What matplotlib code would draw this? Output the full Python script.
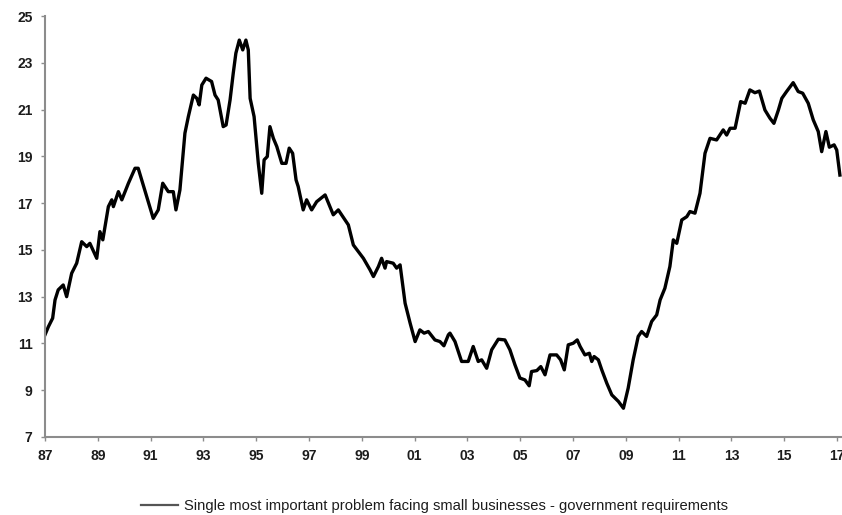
import matplotlib
matplotlib.use("Agg")
import matplotlib.pyplot as plt

# Share of small firms naming government requirements as their single most
# important problem (%), traced as (decimal year, value) pairs.
years = [
    1987.00, 1987.13, 1987.29, 1987.38, 1987.50, 1987.69, 1987.82, 1988.01,
    1988.20, 1988.39, 1988.58, 1988.70, 1988.96, 1989.08, 1989.19, 1989.40,
    1989.53, 1989.59, 1989.78, 1989.91, 1990.16, 1990.41, 1990.53, 1990.85,
    1991.10, 1991.29, 1991.46, 1991.67, 1991.86, 1991.96, 1992.11, 1992.30,
    1992.43, 1992.62, 1992.75, 1992.84, 1992.94, 1993.10, 1993.31, 1993.44,
    1993.56, 1993.75, 1993.86, 1994.01, 1994.13, 1994.23, 1994.36, 1994.49,
    1994.61, 1994.70, 1994.77, 1994.92, 1995.08, 1995.21, 1995.30, 1995.42,
    1995.52, 1995.65, 1995.78, 1995.97, 1996.13, 1996.25, 1996.38, 1996.51,
    1996.59, 1996.78, 1996.91, 1997.10, 1997.29, 1997.61, 1997.92, 1998.11,
    1998.49, 1998.68, 1999.06, 1999.31, 1999.44, 1999.63, 1999.75, 1999.88,
    1999.94, 2000.19, 2000.32, 2000.45, 2000.64, 2000.83, 2001.02, 2001.20,
    2001.36, 2001.52, 2001.77, 2001.96, 2002.11, 2002.28, 2002.34, 2002.53,
    2002.78, 2003.03, 2003.22, 2003.41, 2003.54, 2003.73, 2003.92, 2004.17,
    2004.42, 2004.61, 2004.80, 2004.99, 2005.18, 2005.34, 2005.43, 2005.63,
    2005.78, 2005.94, 2006.13, 2006.38, 2006.53, 2006.67, 2006.82, 2007.01,
    2007.16, 2007.27, 2007.45, 2007.62, 2007.71, 2007.80, 2007.96, 2008.09,
    2008.28, 2008.47, 2008.72, 2008.91, 2009.09, 2009.28, 2009.47, 2009.60,
    2009.79, 2009.98, 2010.17, 2010.30, 2010.48, 2010.67, 2010.80, 2010.93,
    2011.12, 2011.31, 2011.43, 2011.62, 2011.81, 2012.00, 2012.19, 2012.44,
    2012.69, 2012.82, 2012.95, 2013.14, 2013.35, 2013.52, 2013.70, 2013.89,
    2014.06, 2014.27, 2014.46, 2014.61, 2014.78, 2014.91, 2015.09, 2015.34,
    2015.53, 2015.70, 2015.91, 2016.10, 2016.29, 2016.42, 2016.58, 2016.71,
    2016.89, 2016.99, 2017.11,
]
values = [
    11.37, 11.72, 12.08, 12.86, 13.29, 13.50, 13.00, 14.00,
    14.43, 15.35, 15.14, 15.28, 14.64, 15.78, 15.43, 16.85,
    17.14, 16.85, 17.49, 17.14, 17.85, 18.49, 18.49, 17.28,
    16.35, 16.71, 17.85, 17.49, 17.49, 16.71, 17.56, 19.99,
    20.70, 21.62, 21.48, 21.20, 22.05, 22.34, 22.20, 21.62,
    21.41, 20.27, 20.34, 21.41, 22.55, 23.41, 23.97, 23.55,
    23.97, 23.55, 21.48, 20.70, 18.70, 17.42, 18.85, 18.99,
    20.27, 19.77, 19.42, 18.70, 18.70, 19.35, 19.13, 17.99,
    17.71, 16.71, 17.14, 16.71, 17.06, 17.35, 16.50, 16.71,
    16.07, 15.21, 14.64, 14.15, 13.86, 14.29, 14.64, 14.22,
    14.50, 14.43, 14.22, 14.36, 12.72, 11.87, 11.08, 11.58,
    11.44, 11.51, 11.15, 11.08, 10.90, 11.37, 11.44, 11.08,
    10.23, 10.23, 10.87, 10.23, 10.30, 9.94, 10.73, 11.18,
    11.15, 10.73, 10.09, 9.52, 9.44, 9.19, 9.80, 9.84,
    10.01, 9.66, 10.51, 10.51, 10.30, 9.87, 10.94, 11.01,
    11.15, 10.87, 10.51, 10.58, 10.23, 10.44, 10.30, 9.87,
    9.30, 8.80, 8.52, 8.23, 9.09, 10.30, 11.30, 11.51,
    11.30, 11.94, 12.22, 12.86, 13.36, 14.29, 15.43, 15.28,
    16.28, 16.42, 16.64, 16.57, 17.42, 19.13, 19.77, 19.70,
    20.13, 19.91, 20.20, 20.20, 21.34, 21.27, 21.84, 21.72,
    21.79, 20.98, 20.63, 20.41, 20.98, 21.48, 21.77, 22.15,
    21.77, 21.70, 21.27, 20.56, 20.06, 19.20, 20.06, 19.39,
    19.49, 19.27, 18.20,
]

x_ticks = list(range(1987, 2018, 2))
x_labels = [f"{y % 100:02d}" for y in x_ticks]
y_ticks = list(range(7, 26, 2))
series_label = ("Single most important problem facing small businesses"
                " - government requirements")

W, H, DPI = 842, 515, 100
AXIS_GREY = "#8c8c8c"
TEXT_COL = "#1c1c1c"

plt.rcParams["font.family"] = ["Liberation Sans", "DejaVu Sans"]

fig = plt.figure(figsize=(W / DPI, H / DPI), dpi=DPI)
ax = fig.add_axes([45 / W, 78 / H, (W - 45) / W, 421 / H])

line, = ax.plot(years, values, color="black", linewidth=2.4,
                solid_joinstyle="round", label=series_label)

ax.set_xlim(1987, 1987 + (W - 45) / 26.4)
ax.set_ylim(7, 25)
ax.set_xticks(x_ticks)
ax.set_xticklabels(x_labels)
ax.set_yticks(y_ticks)

for side in ("top", "right"):
    ax.spines[side].set_visible(False)
for side in ("left", "bottom"):
    ax.spines[side].set_color(AXIS_GREY)
    ax.spines[side].set_linewidth(1.5)

ax.tick_params(axis="both", direction="out", length=3, width=1,
               color=AXIS_GREY, labelcolor=TEXT_COL, labelsize=10)
ax.tick_params(axis="y", pad=6)
ax.tick_params(axis="x", pad=6)
for lbl in ax.get_xticklabels() + ax.get_yticklabels():
    lbl.set_fontweight("bold")

leg = fig.legend(handles=[line], loc="center left",
                 bbox_to_anchor=(128 / W, 1 - 506 / H), frameon=False,
                 handlelength=2.5, handletextpad=0.4,
                 prop={"size": 10.6})
leg.legend_handles[0].set_color("#555555")
leg.legend_handles[0].set_linewidth(1.6)
for txt in leg.get_texts():
    txt.set_color(TEXT_COL)

fig.savefig("out.png", dpi=DPI)
